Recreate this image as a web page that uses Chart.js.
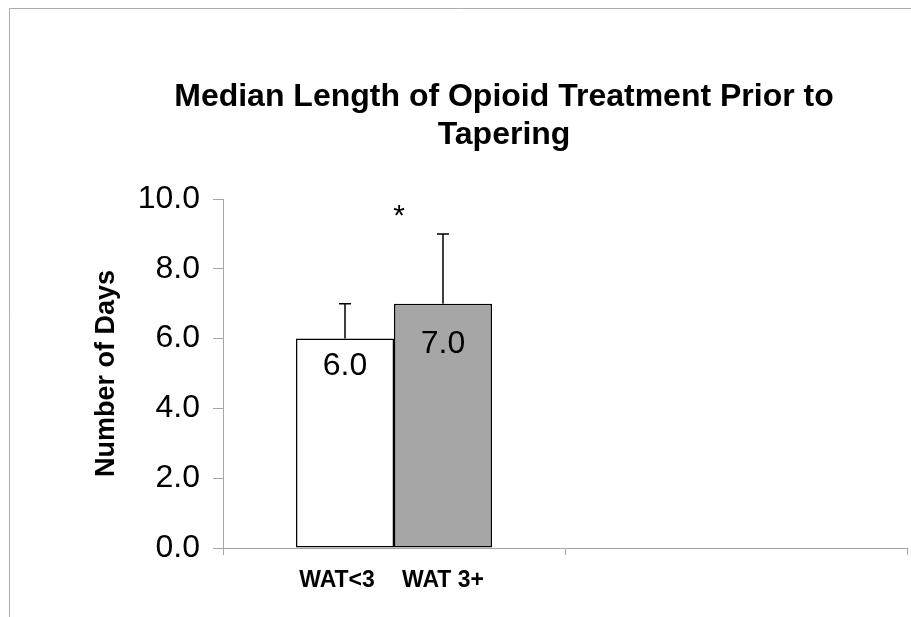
<!DOCTYPE html>
<html>
<head>
<meta charset="utf-8">
<script src="https://cdn.jsdelivr.net/npm/chart.js@4"></script>
<style>
  html, body { margin: 0; padding: 0; background: #fff; }
  #wrap { position: relative; width: 911px; height: 617px; }
</style>
</head>
<body>
<div id="wrap"><canvas id="chart"></canvas></div>
<script>
// Chart data
const titleLines = ['Median Length of Opioid Treatment Prior to', 'Tapering'];
const groupLabels = ['WAT<3', 'WAT 3+'];
const medianDays = [6.0, 7.0];
const upperBound = [7.0, 9.0];
const slots = ['', ''];            // first slot holds the bars, second is empty
const yTicks = [0, 2, 4, 6, 8, 10];
const sigMark = '*';
const sigLevel = 9.5;

const FONT = "'Liberation Sans', Arial, sans-serif";
const fills = ['#ffffff', '#a6a6a6'];
const labelDrop = [28, 40];
const nameShift = [-8, 0];
const axisGray = '#a6a6a6';

// Frame, title and annotations
const decorations = {
    id: 'decorations',
    beforeDraw(chart) {
        const ctx = chart.ctx;
        ctx.save();
        ctx.strokeStyle = '#acacac';
        ctx.lineWidth = 1;
        ctx.beginPath();
        ctx.moveTo(9.5, 617);
        ctx.lineTo(9.5, 8.5);
        ctx.lineTo(911, 8.5);
        ctx.stroke();

        ctx.fillStyle = '#000';
        ctx.font = 'bold 32px ' + FONT;
        ctx.textAlign = 'center';
        ctx.textBaseline = 'middle';
        titleLines.forEach((line, i) => ctx.fillText(line, 504, 97 + i * 38));
        ctx.restore();
    },
    afterDatasetsDraw(chart) {
        const ctx = chart.ctx;
        const yScale = chart.scales.y;
        ctx.save();
        ctx.strokeStyle = '#000';
        ctx.lineWidth = 1.5;
        ctx.fillStyle = '#000';
        ctx.textAlign = 'center';
        ctx.textBaseline = 'middle';

        const centers = [];
        groupLabels.forEach((name, i) => {
            const bar = chart.getDatasetMeta(i).data[0];
            centers.push(bar.x);

            // upper error bar
            const yTop = yScale.getPixelForValue(upperBound[i]);
            ctx.beginPath();
            ctx.moveTo(bar.x, bar.y);
            ctx.lineTo(bar.x, yTop);
            ctx.moveTo(bar.x - 6, yTop);
            ctx.lineTo(bar.x + 6, yTop);
            ctx.stroke();

            // value inside bar
            ctx.font = '32px ' + FONT;
            ctx.fillText(medianDays[i].toFixed(1), bar.x, bar.y + labelDrop[i]);

            // group name under the axis
            ctx.font = 'bold 23px ' + FONT;
            ctx.fillText(name, bar.x + nameShift[i], yScale.bottom + 33);
        });

        ctx.font = '30px ' + FONT;
        ctx.fillText(sigMark, (centers[0] + centers[1]) / 2 + 5, yScale.getPixelForValue(sigLevel));
        ctx.restore();
    }
};

const datasets = groupLabels.map((name, i) => ({
    label: name,
    data: slots.map((s, j) => (j === 0 ? medianDays[i] : null)),
    backgroundColor: fills[i],
    borderColor: '#000',
    borderWidth: 1.5,
    borderSkipped: false,
    categoryPercentage: 0.573,
    barPercentage: 1.0
}));

new Chart(document.getElementById('chart'), {
    type: 'bar',
    data: { labels: slots, datasets: datasets },
    plugins: [decorations],
    options: {
        responsive: true,
        maintainAspectRatio: false,
        animation: false,
        layout: { padding: { left: 0, right: 4, top: 199, bottom: 39 } },
        plugins: {
            legend: { display: false },
            tooltip: { enabled: false },
            title: { display: false }
        },
        scales: {
            x: {
                grid: { display: true, drawOnChartArea: false, drawTicks: true, tickLength: 7, color: axisGray, offset: true },
                border: { display: true, color: axisGray, width: 1 },
                ticks: { display: true, font: { size: 10 } },
                afterFit(scale) { scale.height = 30; }
            },
            y: {
                min: 0,
                max: 10,
                afterBuildTicks(scale) { scale.ticks = yTicks.map(v => ({ value: v })); },
                grid: { display: true, drawOnChartArea: false, drawTicks: true, tickLength: 10, color: axisGray },
                border: { display: true, color: axisGray, width: 1 },
                ticks: {
                    color: '#000',
                    padding: 13,
                    font: { family: FONT, size: 32 },
                    callback: v => Number(v).toFixed(1)
                },
                title: {
                    display: true,
                    text: 'Number of Days',
                    color: '#000',
                    font: { family: FONT, size: 27, weight: 'bold' },
                    padding: { top: 90, bottom: 0 }
                },
                afterFit(scale) { scale.width = 223; }
            }
        }
    }
});
</script>
</body>
</html>
